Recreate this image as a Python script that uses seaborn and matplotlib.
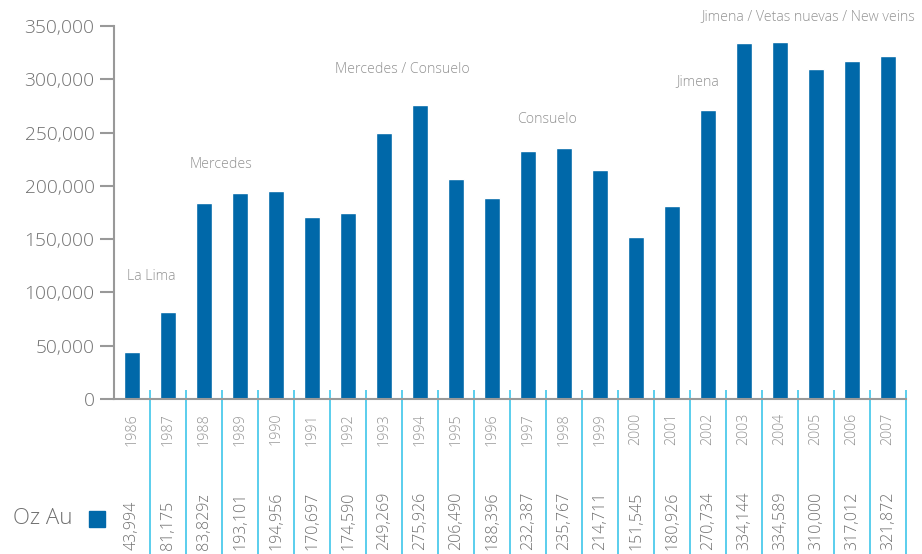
import matplotlib
matplotlib.use("Agg")
import matplotlib.pyplot as plt
import seaborn as sns
import pandas as pd

years = [str(y) for y in range(1986, 2008)]
oz_au = [43994, 81175, 183829, 193101, 194956, 170697, 174590, 249269, 275926,
         206490, 188396, 232387, 235767, 214711, 151545, 180926, 270734, 334144,
         334589, 310000, 317012, 321872]
value_labels = ["43,994", "81,175", "83,829z", "193,101", "194,956", "170,697",
                "174,590", "249,269", "275,926", "206,490", "188,396", "232,387",
                "235,767", "214,711", "151,545", "180,926", "270,734", "334,144",
                "334,589", "310,000", "317,012", "321,872"]
annot_texts = ["La Lima", "Mercedes", "Mercedes / Consuelo", "Consuelo", "Jimena",
               "Jimena / Vetas nuevas / New veins"]
annot_x = [0.53, 2.47, 7.5, 11.53, 15.72, 18.78]
annot_y = [114500, 220500, 309600, 262700, 297400, 358400]

BLUE = "#0068a9"
CYAN = "#3ec6ea"
GRAY = "#707070"
LGRAY = "#939393"
W = "light"

sns.set_theme(style="white")
plt.rcParams["font.family"] = ["Open Sans", "DejaVu Sans"]

fig = plt.figure(figsize=(9.22, 5.54), dpi=100)
ax = fig.add_axes([114/922, 155/554, 792/922, 373/554])

df = pd.DataFrame({"year": years, "oz": oz_au})
sns.barplot(data=df, x="year", y="oz", color=BLUE, width=0.47, saturation=1, ax=ax)

ax.set_xlim(-0.5, 21.5)
ax.set_ylim(0, 350000)
ax.set_yticks(range(0, 350001, 50000))
ax.set_yticklabels([f"{v:,}" for v in range(0, 350001, 50000)], fontsize=13.8,
                   color=GRAY, fontweight=W)
ax.set_xticks(range(len(years)))
ax.set_xticklabels(years, rotation=90, fontsize=10.3, color=LGRAY, fontweight=W)
ax.tick_params(axis="x", length=0, pad=10)
ax.tick_params(axis="y", length=10, width=1.5, color="#999999", direction="out", left=True, pad=4)
ax.set_xlabel("")
ax.set_ylabel("")
for s in ["top", "right"]:
    ax.spines[s].set_visible(False)
for s in ["left", "bottom"]:
    ax.spines[s].set_color("#999999")
    ax.spines[s].set_linewidth(1.5)

# cyan separators
xt = ax.get_xaxis_transform()
ax.vlines([i + 0.5 for i in range(len(years))], -155/373, 9/373, transform=xt,
          color=CYAN, linewidth=1.2, clip_on=False)

# value labels
for i, lab in enumerate(value_labels):
    ax.text(i, -151/373, lab, transform=xt, rotation=90, ha="center", va="bottom",
            fontsize=11.5, color=GRAY, fontweight=W, clip_on=False)

# annotations
for t, x, y in zip(annot_texts, annot_x, annot_y):
    ax.text(x, y, t, ha="center", va="center", fontsize=10.2, color=LGRAY,
            fontweight=W, clip_on=False)

# legend-like label
fig.text(13/922, 1 - 518/554, "Oz Au", fontsize=16, color=GRAY, fontweight=W,
         ha="left", va="center")
fig.patches.append(plt.Rectangle((89/922, 1 - 527/554), 16/922, 16/554,
                                 transform=fig.transFigure, color=BLUE))

fig.savefig("out.png", dpi=100)
